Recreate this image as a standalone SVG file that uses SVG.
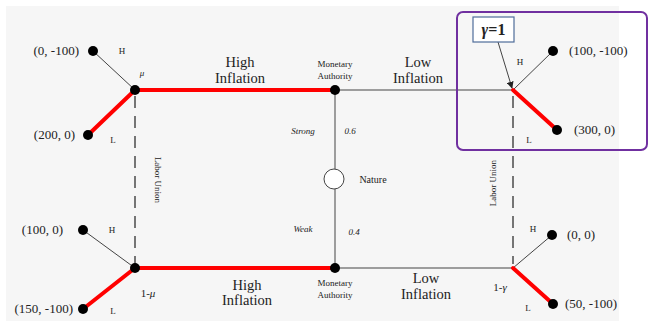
<svg xmlns="http://www.w3.org/2000/svg" width="649" height="326" viewBox="0 0 649 326">
<defs>
<style>
text{font-family:"Liberation Serif","DejaVu Serif",serif;fill:#222}
.coord{font-size:13px}
.big{font-size:14.5px;text-anchor:middle}
.sm{font-size:9px;text-anchor:middle}
.it{font-size:9px;font-style:italic;text-anchor:middle}
.thin{stroke:#444;stroke-width:1;fill:none}
.red{stroke:#ff0000;stroke-width:4;fill:none;stroke-linecap:round;stroke-linejoin:round}
.dash{stroke:#555;stroke-width:1.6;stroke-dasharray:12 8;fill:none}
.dot{fill:#000}
</style>
<marker id="ah" viewBox="0 0 10 10" refX="9" refY="5" markerWidth="7" markerHeight="7" orient="auto-start-reverse">
<path d="M0,0 L10,5 L0,10 z" fill="#222"/>
</marker>
</defs>
<rect x="0" y="0" width="649" height="326" fill="#ffffff"/>
<rect x="6" y="6" width="613" height="315" fill="#f6f6f6"/>

<g id="connectors">
<line class="thin" x1="93" y1="51" x2="135" y2="90"/>
<line class="thin" x1="335" y1="90" x2="513" y2="90"/>
<line class="thin" x1="513" y1="90" x2="553" y2="51"/>
<line class="thin" x1="83" y1="230" x2="135" y2="268"/>
<line class="thin" x1="335" y1="268" x2="513" y2="268"/>
<line class="thin" x1="513" y1="268" x2="552" y2="235"/>
<line class="thin" x1="335" y1="90" x2="335" y2="169"/>
<line class="thin" x1="335" y1="189" x2="335" y2="268"/>
<polyline class="red" points="88,135 135,90 335,90"/>
<polyline class="red" points="83,309 135,268 335,268"/>
<line class="red" x1="513" y1="90" x2="557" y2="130"/>
<line class="red" x1="513" y1="268" x2="553" y2="304"/>
<line class="dash" x1="135" y1="96" x2="135" y2="264"/>
<line class="dash" x1="513" y1="96" x2="513" y2="264"/>
<line class="thin" x1="498" y1="42" x2="512" y2="88" marker-end="url(#ah)"/>
</g>

<g font-family="'Liberation Serif','DejaVu Serif',serif">
<g id="labor-union-top">
<circle class="dot" cx="135" cy="90" r="5"/>
<text class="it" x="142" y="76" font-size="11">μ</text>
<text class="sm" x="158" y="180" transform="rotate(90 158 180)" dy="3">Labor Union</text>
</g>
<g id="leaf-0-m100">
<circle class="dot" cx="93" cy="51" r="5"/>
<text class="coord" x="79" y="55" text-anchor="end">(0, -100)</text>
<text class="sm" x="122" y="54">H</text>
</g>
<g id="leaf-200-0">
<circle class="dot" cx="88" cy="135" r="5"/>
<text class="coord" x="75" y="139" text-anchor="end">(200, 0)</text>
<text class="sm" x="113" y="143">L</text>
</g>
<g id="high-inflation-top">
<text class="big" x="240" y="67">High</text>
<text class="big" x="240" y="83">Inflation</text>
</g>
<g id="monetary-top">
<circle class="dot" cx="335" cy="90" r="5"/>
<text class="sm" x="335" y="67">Monetary</text>
<text class="sm" x="335" y="79">Authority</text>
</g>
<g id="nature">
<circle cx="334" cy="179" r="10" fill="#ffffff" stroke="#444" stroke-width="1"/>
<text x="373" y="183" font-size="10" text-anchor="middle">Nature</text>
<text class="it" x="303" y="134">Strong</text>
<text class="it" x="350" y="134">0.6</text>
<text class="it" x="303" y="232">Weak</text>
<text class="it" x="354" y="235">0.4</text>
</g>
<g id="low-inflation-top">
<text class="big" x="418" y="67">Low</text>
<text class="big" x="418" y="83">Inflation</text>
</g>
<g id="labor-union-right-top">
<circle class="dot" cx="553" cy="51" r="5"/>
<text class="coord" x="569" y="55">(100, -100)</text>
<text class="sm" x="520" y="65">H</text>
<circle class="dot" cx="557" cy="130" r="5"/>
<text class="coord" x="574" y="134">(300, 0)</text>
<text class="sm" x="529" y="143">L</text>
</g>
<g id="labor-union-right">
<text class="sm" x="493" y="183" transform="rotate(-90 493 183)" dy="3">Labor Union</text>
</g>
<g id="gamma-box">
<rect x="457" y="12" width="190" height="138" rx="6" fill="none" stroke="#7030a0" stroke-width="2"/>
<rect x="473" y="17" width="41" height="25" fill="#ffffff" stroke="#4f6d9a" stroke-width="1.2"/>
<text x="493.5" y="35" font-size="16" font-weight="bold" text-anchor="middle"><tspan font-style="italic">γ</tspan>=1</text>
</g>
<g id="labor-union-bottom">
<circle class="dot" cx="135" cy="268" r="5"/>
<text x="148" y="297" font-size="11" text-anchor="middle">1-<tspan font-style="italic">μ</tspan></text>
</g>
<g id="leaf-100-0">
<circle class="dot" cx="83" cy="230" r="5"/>
<text class="coord" x="63" y="234" text-anchor="end">(100, 0)</text>
<text class="sm" x="112" y="233">H</text>
</g>
<g id="leaf-150-m100">
<circle class="dot" cx="83" cy="309" r="5"/>
<text class="coord" x="73" y="313" text-anchor="end">(150, -100)</text>
<text class="sm" x="113" y="314">L</text>
</g>
<g id="high-inflation-bottom">
<text class="big" x="247" y="290">High</text>
<text class="big" x="247" y="305">Inflation</text>
</g>
<g id="monetary-bottom">
<circle class="dot" cx="335" cy="268" r="5"/>
<text class="sm" x="335" y="286">Monetary</text>
<text class="sm" x="335" y="298">Authority</text>
</g>
<g id="low-inflation-bottom">
<text class="big" x="426" y="283">Low</text>
<text class="big" x="426" y="299">Inflation</text>
</g>
<g id="labor-union-right-bottom">
<text x="500" y="291" font-size="11" text-anchor="middle">1-<tspan font-style="italic">γ</tspan></text>
<circle class="dot" cx="552" cy="235" r="5"/>
<text class="coord" x="567" y="239">(0, 0)</text>
<text class="sm" x="533" y="232">H</text>
<circle class="dot" cx="553" cy="304" r="5"/>
<text class="coord" x="565" y="308">(50, -100)</text>
<text class="sm" x="528" y="311">L</text>
</g>
</g>
</svg>
